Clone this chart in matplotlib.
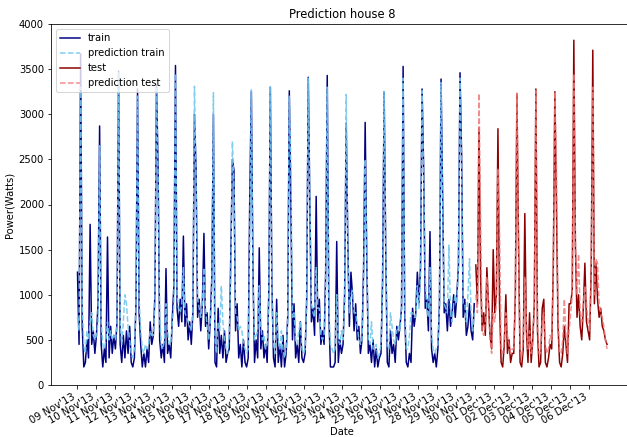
import numpy as np
import pandas as pd
import matplotlib
matplotlib.use("Agg")
import matplotlib.pyplot as plt
import matplotlib.dates as mdates

# values every 2 hours, one row per day (09 Nov .. 29 Nov train, 30 Nov .. 06 Dec test)
train_power = [
    1250, 450, 3670, 650, 200, 250, 500, 300, 1780, 450, 600, 350,
    550, 900, 2870, 450, 200, 400, 250, 1640, 300, 650, 350, 550,
    400, 700, 3480, 450, 250, 550, 300, 600, 350, 650, 250, 200,
    300, 900, 3280, 800, 450, 200, 350, 200, 400, 250, 700, 450,
    550, 1000, 3330, 2400, 500, 300, 450, 250, 1290, 350, 450, 300,
    750, 1100, 3540, 850, 650, 950, 700, 1650, 650, 900, 500, 700,
    450, 800, 3000, 2400, 750, 950, 600, 900, 1680, 650, 800, 400,
    700, 1200, 3000, 250, 200, 850, 350, 550, 300, 600, 250, 350,
    400, 1430, 2500, 2380, 600, 900, 300, 450, 200, 500, 250, 200,
    300, 2110, 3250, 1290, 250, 500, 300, 1520, 400, 600, 300, 450,
    250, 1000, 3300, 1100, 300, 200, 950, 250, 450, 200, 550, 200,
    350, 750, 3260, 2000, 500, 900, 300, 450, 250, 700, 300, 250,
    350, 950, 3410, 2000, 700, 850, 550, 2090, 700, 950, 450, 600,
    450, 1250, 3430, 800, 200, 200, 200, 250, 1590, 250, 500, 350,
    450, 1000, 2900, 1600, 650, 1250, 1000, 600, 900, 500, 650, 350,
    500, 1290, 2910, 1400, 350, 450, 250, 500, 200, 400, 200, 300,
    350, 1150, 3250, 1500, 250, 200, 600, 350, 450, 250, 650, 500,
    650, 850, 3530, 800, 250, 200, 350, 250, 850, 650, 800, 1250,
    900, 1300, 3280, 2400, 850, 950, 600, 1700, 400, 250, 350, 200,
    400, 900, 3390, 2080, 800, 900, 600, 950, 650, 800, 1000, 750,
    1000, 1320, 3460, 2550, 750, 950, 550, 650, 900, 600, 500, 900,
]
train_pred = [
    750, 600, 3300, 900, 450, 350, 600, 500, 700, 800, 550, 500,
    550, 700, 2650, 700, 450, 400, 500, 700, 500, 600, 500, 550,
    500, 650, 3470, 700, 450, 700, 1000, 900, 650, 500, 350, 300,
    400, 850, 3200, 950, 600, 400, 350, 450, 400, 450, 600, 550,
    550, 900, 3300, 2300, 750, 450, 400, 500, 900, 600, 450, 450,
    700, 900, 3450, 1000, 850, 800, 900, 1300, 800, 750, 700, 650,
    600, 800, 3310, 2300, 950, 850, 750, 900, 1300, 850, 650, 500,
    700, 1000, 3240, 500, 350, 700, 600, 1100, 700, 500, 400, 350,
    550, 1200, 2700, 2200, 800, 750, 600, 650, 600, 450, 400, 350,
    400, 1600, 3270, 1200, 500, 550, 600, 1100, 650, 500, 550, 400,
    450, 900, 3310, 1000, 450, 350, 800, 500, 400, 600, 400, 300,
    400, 700, 3200, 2430, 750, 800, 500, 450, 600, 700, 400, 350,
    400, 900, 3400, 2100, 900, 800, 750, 1300, 850, 850, 550, 500,
    550, 1000, 3300, 850, 450, 400, 350, 400, 1000, 500, 450, 600,
    500, 900, 3220, 1500, 800, 1000, 1050, 800, 800, 650, 500, 450,
    500, 1100, 2500, 1500, 500, 450, 700, 400, 400, 450, 300, 350,
    450, 1000, 3250, 1600, 400, 400, 800, 650, 500, 450, 600, 650,
    600, 850, 3400, 900, 400, 400, 550, 800, 800, 750, 750, 1100,
    850, 1200, 3260, 2300, 1200, 850, 750, 1300, 550, 400, 350, 400,
    450, 850, 3350, 2000, 900, 850, 800, 1550, 800, 700, 900, 1000,
    900, 1300, 3400, 2400, 900, 900, 700, 1000, 1400, 800, 600, 800,
]
test_power = [
    1330, 900, 2850, 1200, 600, 800, 550, 1300, 900, 550, 400, 1500,
    800, 1000, 2840, 900, 250, 200, 450, 1000, 350, 500, 250, 350,
    350, 1000, 3230, 1600, 250, 200, 400, 1900, 600, 250, 800, 250,
    500, 900, 3280, 600, 200, 250, 850, 950, 250, 200, 300, 450,
    400, 1300, 3250, 2000, 650, 250, 200, 350, 650, 450, 250, 900,
    900, 1050, 3820, 1540, 750, 1000, 650, 500, 850, 1350, 700, 600,
    500, 1300, 3710, 900, 1350, 950, 750, 850, 650, 600, 500, 450,
]
test_pred = [
    1000, 800, 3230, 1850, 600, 550, 700, 1200, 900, 500, 350, 800,
    700, 900, 2400, 1690, 400, 350, 500, 800, 550, 450, 350, 400,
    400, 900, 3230, 1500, 400, 300, 500, 1200, 700, 400, 600, 350,
    450, 850, 3260, 700, 350, 350, 700, 800, 450, 350, 400, 550,
    500, 1200, 3250, 2430, 800, 350, 350, 500, 950, 550, 350, 600,
    800, 1000, 3450, 1600, 1000, 1450, 800, 700, 900, 1100, 900, 700,
    600, 1200, 3300, 1000, 1400, 1350, 900, 800, 750, 650, 500, 400,
]

train_dates = pd.date_range('2013-11-09 01:00', periods=len(train_power), freq='2h')
test_dates = pd.date_range('2013-11-30 01:00', periods=len(test_power), freq='2h')
tick_days = pd.date_range('2013-11-09', '2013-12-06', freq='D')

fig = plt.figure(figsize=(627/72, 437/72), dpi=72)
ax = fig.add_axes([51/627, 52/437, 582.5/627, 361/437])

ax.plot(train_dates, train_power, color='navy', label='train')
ax.plot(train_dates, train_pred, '--', color='#72c8ee', alpha=0.9, label='prediction train')
ax.plot(test_dates, test_power, color='darkred', label='test')
ax.plot(test_dates, test_pred, '--', color='#f27878', alpha=0.85, label='prediction test')

ax.set_ylim(0, 4000)
ax.set_yticks(np.arange(0, 4001, 500))
ax.set_xticks(tick_days)
ax.xaxis.set_major_formatter(mdates.DateFormatter("%d %b'%y"))
for lbl in ax.get_xticklabels():
    lbl.set_rotation(30)
    lbl.set_ha('right')

ax.set_title('Prediction house 8', fontsize=11.5)
ax.set_xlabel('Date', labelpad=1)
ax.set_ylabel('Power(Watts)')
ax.legend(loc='upper left')

fig.savefig('out.png', dpi=72)
